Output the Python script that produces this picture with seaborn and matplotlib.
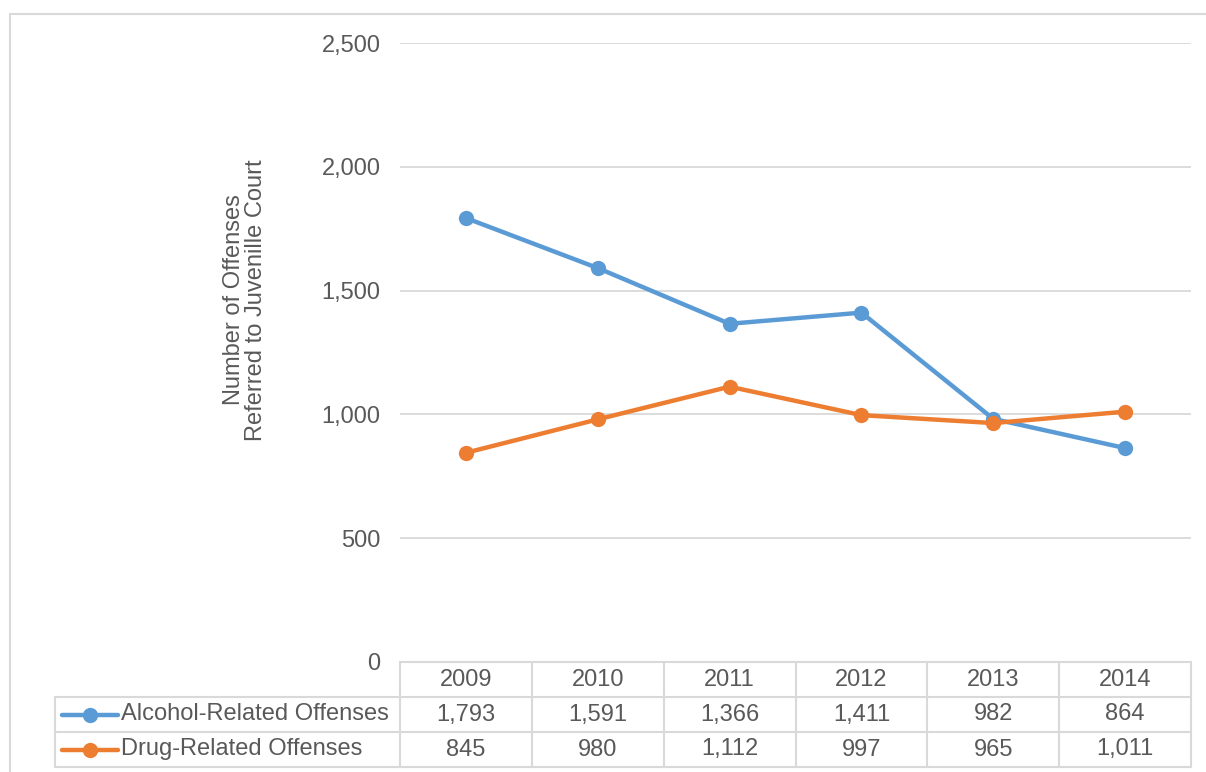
import matplotlib
matplotlib.use("Agg")
import matplotlib.pyplot as plt
from matplotlib.lines import Line2D
from matplotlib import transforms
import pandas as pd
import seaborn as sns

# data
years = ["2009", "2010", "2011", "2012", "2013", "2014"]
alcohol = [1793, 1591, 1366, 1411, 982, 864]
drug = [845, 980, 1112, 997, 965, 1011]
series_names = ["Alcohol-Related Offenses", "Drug-Related Offenses"]
colors = ["#5B9BD5", "#ED7D31"]
yticks = [0, 500, 1000, 1500, 2000, 2500]

TXT = "#595959"
GRID = "#D9D9D9"
W, H = 1206, 772
FS = 17

sns.set_theme(style="white")
plt.rcParams["font.family"] = ["Liberation Sans", "DejaVu Sans"]

df = pd.DataFrame({
    "x": list(range(len(years))) * 2,
    "value": alcohol + drug,
    "series": [series_names[0]] * len(years) + [series_names[1]] * len(years),
})

fig = plt.figure(figsize=(W / 100, H / 100), dpi=100)
ax = fig.add_axes([400 / W, 1 - 662 / H, (1191 - 400) / W, (662 - 43) / H])

sns.lineplot(data=df, x="x", y="value", hue="series", palette=colors,
             marker="o", markersize=11, markeredgewidth=0, linewidth=3.2,
             legend=False, ax=ax)

ax.set_xlim(-0.5, len(years) - 0.5)
ax.set_ylim(0, 2500)
ax.set_yticks(yticks)
ax.set_yticklabels([f"{t:,}" for t in yticks], color=TXT, fontsize=FS)
ax.tick_params(axis="y", length=0, pad=14)
ax.set_xticks([])
ax.set_xlabel("")
ax.set_ylabel("")
ax.grid(axis="y", color=GRID, lw=1.3)
ax.set_axisbelow(True)
for s in ax.spines.values():
    s.set_visible(False)

fig.text(245 / W, 1 - 300 / H, "Number of Offenses\nReferred to Juvenille Court",
         rotation=90, ha="center", va="center", ma="center",
         color=TXT, fontsize=FS, linespacing=1.0)

# data table under the plot
def fy(py):
    return 1 - py / H

def fx(px):
    return px / W

def hline(y, x0, x1):
    fig.add_artist(Line2D([fx(x0), fx(x1)], [fy(y), fy(y)], color=GRID, lw=1.5,
                          transform=fig.transFigure))

def vline(x, y0, y1):
    fig.add_artist(Line2D([fx(x), fx(x)], [fy(y0), fy(y1)], color=GRID, lw=1.5,
                          transform=fig.transFigure))

rows_y = [662, 697, 732, 767]
tab_left = 55
col_edges = [400 + i * (1191 - 400) / len(years) for i in range(len(years) + 1)]

hline(rows_y[0], col_edges[0], col_edges[-1])
for y in rows_y[1:]:
    hline(y, tab_left, col_edges[-1])
for x in col_edges:
    vline(x, rows_y[0], rows_y[-1])
vline(tab_left, rows_y[1], rows_y[-1])

blend = transforms.blended_transform_factory(ax.transData, fig.transFigure)
for i, yr in enumerate(years):
    ax.text(i, fy((rows_y[0] + rows_y[1]) / 2), yr, transform=blend,
            ha="center", va="center", color=TXT, fontsize=FS)
for r, vals in enumerate([alcohol, drug]):
    yc = fy((rows_y[r + 1] + rows_y[r + 2]) / 2)
    for i, v in enumerate(vals):
        ax.text(i, yc, f"{v:,}", transform=blend, ha="center", va="center",
                color=TXT, fontsize=FS)
    fig.add_artist(Line2D([fx(62), fx(90), fx(118)], [yc, yc, yc], color=colors[r],
                          lw=3.2, marker="o", markersize=11, markeredgewidth=0,
                          markevery=[1], transform=fig.transFigure))
    fig.text(fx(121), yc, series_names[r], ha="left", va="center",
             color=TXT, fontsize=FS)

# outer chart frame (partly cut off at the right and bottom)
hline(14, 10, W)
vline(10, 14, H)

fig.savefig("out.png", dpi=100)
